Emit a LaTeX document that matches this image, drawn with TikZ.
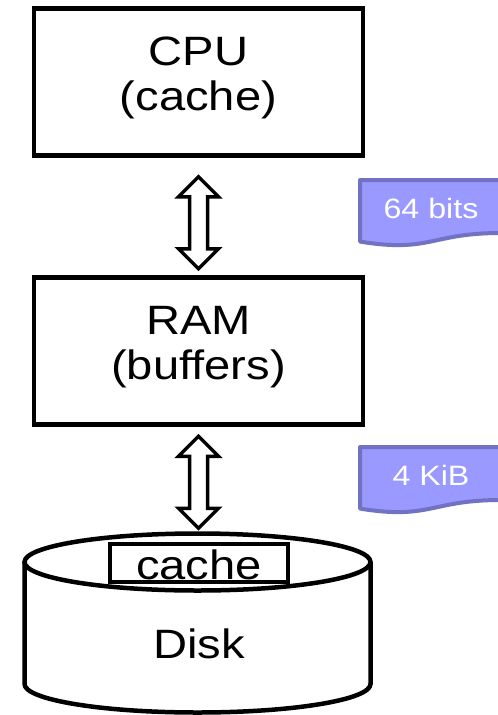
\documentclass[tikz,border=0pt]{standalone}
\usepackage{fontspec}
\usepackage{graphicx}
\setmainfont{Liberation Sans}
\usetikzlibrary{calc}

% text is set slightly wide
\newcommand\wide[1]{\scalebox{1.15}[1]{#1}}

\definecolor{tagfill}{RGB}{153,153,255}
\definecolor{tagedge}{RGB}{114,114,196}

\tikzset{
  outline/.style={draw=black, line width=4.5pt},
  box/.style={outline, rectangle, inner sep=0pt, fill=white},
  bigtext/.style={font=\fontsize{41}{45}\selectfont, inner sep=0pt, align=center, anchor=base},
  bus/.style={draw=black, fill=white, line width=3.5pt, line join=miter},
  tag/.style={draw=tagedge, fill=tagfill, line width=4pt, line join=round},
  tagtext/.style={font=\fontsize{28}{32}\selectfont, text=white, inner sep=0pt, anchor=base},
}

% hollow two-headed bus arrow, given its upper tip
\newcommand\busarrow[1]{%
  \draw[bus] #1 -- ++(20,-20) -- ++(-11,0) -- ++(0,-52) -- ++(11,0)
    -- ++(-20,-20) -- ++(-20,20) -- ++(11,0) -- ++(0,52) -- ++(-11,0) -- cycle;}

\begin{document}
\begin{tikzpicture}[x=1pt,y=1pt]
\useasboundingbox (0,0) rectangle (498,-715);

% CPU and RAM (text anchored on the baseline of its last line)
\node[box, minimum width=329pt, minimum height=147pt] (cpu) at (198.5,-82) {};
\node[bigtext] (cputext) at (198.5,-110) {\wide{CPU}\\\wide{(cache)}};

\node[box, minimum width=329pt, minimum height=147pt] (ram) at (198.5,-351) {};
\node[bigtext] (ramtext) at (198.5,-379) {\wide{RAM}\\\wide{(buffers)}};

% disk cylinder
\draw[outline, fill=white] (24.5,-562) -- (24.5,-684)
  arc[start angle=180, end angle=360, x radius=173, y radius=28.5] -- (370.5,-562);
\draw[outline] (197.5,-562) ellipse[x radius=173, y radius=28.5];
\coordinate (disktop) at (197.5,-533.5);

\node[box, minimum width=178pt, minimum height=38pt] (dcache) at (199,-563) {};
\node[bigtext] (dcachetext) at (199,-579) {\wide{cache}};
\node[bigtext] (disktext) at (199,-658) {\wide{Disk}};

% buses
\busarrow{($(cpu.south)+(0,-19)$)}
\busarrow{($(ram.south)+(0,-9.5)$)}

% transfer size tags
\draw[tag] (360,-241.6) -- (360,-180) -- (501,-180) -- (501,-233)
  .. controls (430.5,-233) and (430.5,-253) .. (360,-241.6) -- cycle;
\node[tagtext] (bits) at (431,-218) {\wide{64 bits}};

\draw[tag] (360,-508.6) -- (360,-447) -- (501,-447) -- (501,-500)
  .. controls (430.5,-500) and (430.5,-520) .. (360,-508.6) -- cycle;
\node[tagtext] (kib) at (431,-485) {\wide{4 KiB}};
\end{tikzpicture}
\end{document}
